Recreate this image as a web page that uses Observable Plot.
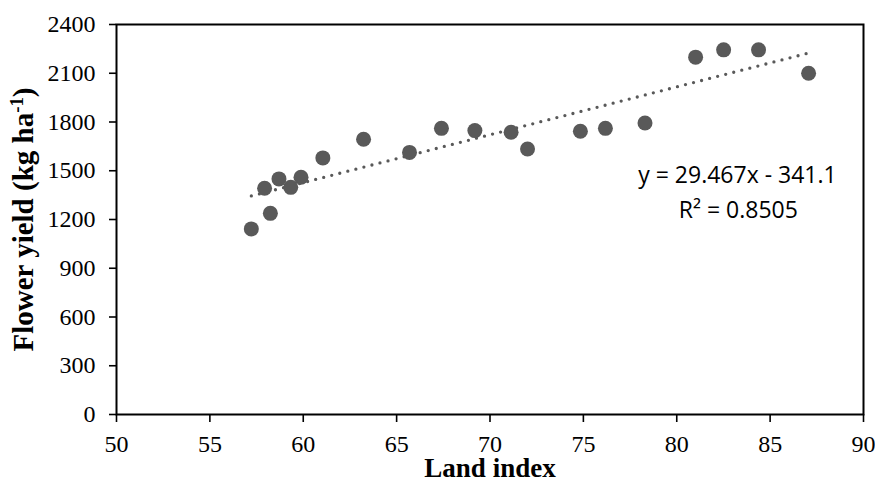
<!DOCTYPE html>
<html><head><meta charset="utf-8">
<script src="https://cdn.jsdelivr.net/npm/d3@7"></script>
<script src="https://cdn.jsdelivr.net/npm/@observablehq/plot@0.6"></script>
<style>body{margin:0;background:#fff}</style>
</head><body><div id="chart"></div>
<script>
// Data
const landIndex   = [57.22, 58.24, 57.93, 58.70, 59.33, 59.88, 61.05, 63.23, 65.69, 67.40, 69.19, 71.13, 72.01, 74.84, 76.18, 78.30, 81.01, 82.51, 84.38, 87.06];
const flowerYield = [1142, 1238, 1392, 1450, 1398, 1460, 1579, 1694, 1613, 1761, 1747, 1737, 1634, 1743, 1761, 1794, 2199, 2244, 2244, 2100];
const xTicks = [50, 55, 60, 65, 70, 75, 80, 85, 90];
const yTicks = [0, 300, 600, 900, 1200, 1500, 1800, 2100, 2400];
const slope = 29.467, intercept = -341.1;
const eqLabel = "y = 29.467x - 341.1";
const r2Label = "R² = 0.8505";
const xTitle = "Land index";
const yTitleMain = "Flower yield (kg ha", yTitleSup = "-1", yTitleEnd = ")";

const points = landIndex.map((x, i) => ({x, y: flowerYield[i]}));
const trend = d3.extent(landIndex).map(x => ({x, y: slope * x + intercept}));
const yTitle = yTitleMain + yTitleSup + yTitleEnd;

const grey = "#595959";
const chart = Plot.plot({
  width: 875, height: 479,
  marginLeft: 116, marginRight: 12, marginTop: 24, marginBottom: 65,
  x: {domain: [50, 90]},
  y: {domain: [0, 2400]},
  style: {fontFamily: "'Liberation Serif', 'Times New Roman', serif", fontSize: "24px", color: "#000", background: "#fff"},
  marks: [
    Plot.axisX({ticks: xTicks, tickSize: 8, tickPadding: 12, tickFormat: d => String(d), label: null, fontSize: 24, strokeWidth: 1.6}),
    Plot.axisY({ticks: yTicks, tickSize: 7, tickPadding: 14, tickFormat: d => String(d), label: null, fontSize: 24, strokeWidth: 1.6}),
    Plot.frame({stroke: "#000", strokeWidth: 2}),
    Plot.line(trend, {x: "x", y: "y", stroke: grey, strokeWidth: 3.3, strokeDasharray: "0,8.3", strokeLinecap: "round"}),
    Plot.dot(points, {x: "x", y: "y", r: 7.5, fill: grey}),
    Plot.text([eqLabel], {x: 83.25, y: 1427, text: d => d, lineAnchor: "bottom", textAnchor: "middle", fontFamily: "'Open Sans', sans-serif", fontSize: 23, fill: "#000"}),
    Plot.text([r2Label], {x: 83.3, y: 1210, text: d => d, lineAnchor: "bottom", textAnchor: "middle", fontFamily: "'Open Sans', sans-serif", fontSize: 23, fill: "#000"}),
    Plot.text([xTitle], {frameAnchor: "bottom", dy: 62, text: d => d, lineAnchor: "bottom", textAnchor: "middle", fontWeight: "bold", fontSize: 27, fill: "#000"}),
    Plot.text([yTitle], {frameAnchor: "left", dx: -93, rotate: -90, text: d => d, lineAnchor: "middle", textAnchor: "middle", fontWeight: "bold", fontSize: 29, fill: "#000"})
  ]
});
document.getElementById("chart").appendChild(chart);

// tick label size
d3.select(chart).selectAll('g[aria-label="x-axis tick label"], g[aria-label="y-axis tick label"]')
  .attr("font-size", 24).style("font-size", "24px")
  .selectAll("text").style("font-size", "24px");

// superscript in the y title
d3.select(chart).selectAll("text").filter(function() { return this.textContent === yTitle; }).each(function() {
  const t = d3.select(this);
  t.text(null);
  t.append("tspan").text(yTitleMain);
  t.append("tspan").attr("baseline-shift", "super").attr("font-size", "65%").text(yTitleSup);
  t.append("tspan").text(yTitleEnd);
});
</script>
</body></html>
